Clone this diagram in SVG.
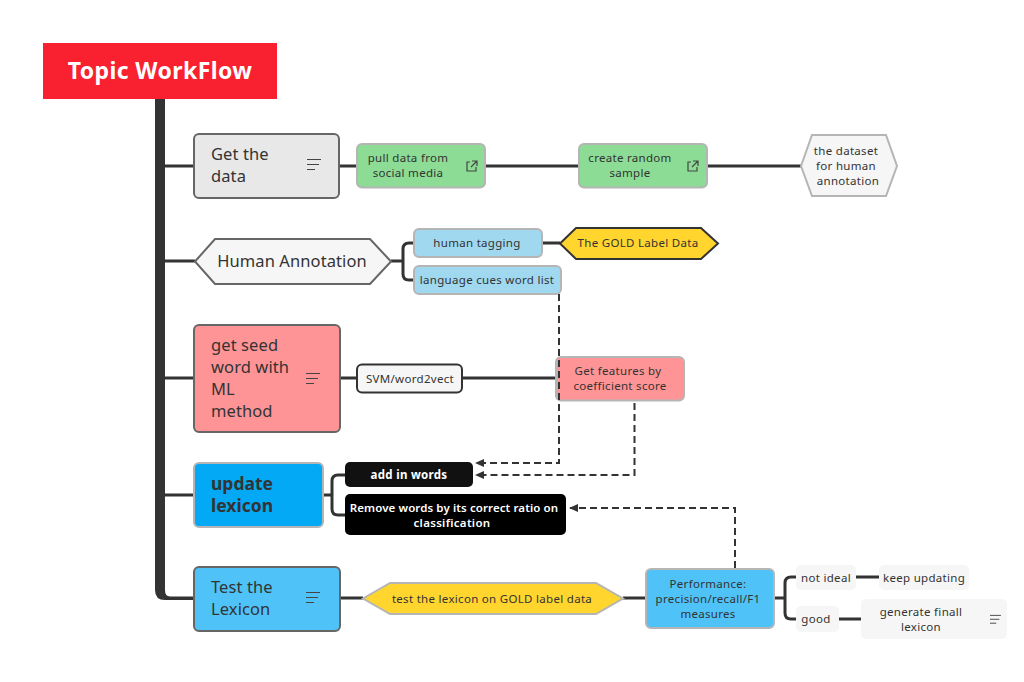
<svg xmlns="http://www.w3.org/2000/svg" width="1024" height="682" viewBox="0 0 1024 682">
<style>
text{font-family:"Noto Sans","Liberation Sans",sans-serif;fill:#333;text-anchor:middle}
.l{text-anchor:start}
.t1{font-size:16.5px;letter-spacing:.1px}
.t2{font-size:11.5px;letter-spacing:.3px}
.c{fill:none;stroke:#333;stroke-width:3}
.d{fill:none;stroke:#333;stroke-width:2;stroke-dasharray:7 4}
.i{fill:none;stroke:#444;stroke-width:1.2}
.dk{stroke:#666;stroke-width:2}
.lt{stroke:#b5b5b5;stroke-width:2}
</style>
<defs>
<marker id="a" markerWidth="10" markerHeight="8" refX="8" refY="4" orient="auto" markerUnits="userSpaceOnUse"><path d="M0 0L9 4L0 8Z" fill="#333"/></marker>
<g id="note"><path class="i" d="M0 .5H14M0 5.500H12M0 10.500H8"/></g>
<g id="link"><path class="i" d="M4 2H1V11H10V7M6 1H11V6M11 1L5 7"/></g>
</defs>
<rect width="1024" height="682" fill="#fff"/>
<g id="connectors">
<path d="M155 99V590Q155 600 165 600H194V596.500H170Q165 596.500 165 590V99Z" fill="#333"/>
<path class="c" d="M165 166H194M165 261H195M165 378H194M165 495H194"/>
<path class="c" d="M340 166H357M485 166H579M707 166H801"/>
<path class="c" d="M391 261H403M414 243H409Q403 243 403 249V274Q403 280 409 280H414M542 243H560"/>
<path class="c" d="M340 378H357M462 378H556"/>
<path class="c" d="M323 495H332M345 475H338Q332 475 332 481V509Q332 515 338 515H345"/>
<path class="c" d="M340 598H363M623 598H646"/>
<path class="c" d="M774 598H785M796 577H791Q785 577 785 583V613Q785 619 791 619H796M856 577H879M839 619H861"/>
</g>
<g id="topic"><rect x="43" y="43" width="234" height="56" fill="#f9202f"/><text x="160" y="79" font-size="23" font-weight="700" letter-spacing=".4" style="fill:#fff">Topic WorkFlow</text></g>
<g id="get-data"><rect class="dk" x="194" y="134" width="145" height="64" rx="5" fill="#e8e8e8"/><text class="l t1" x="211" y="160">Get the</text><text class="l t1" x="211" y="182">data</text><use href="#note" x="307" y="159"/></g>
<g id="pull"><rect class="lt" x="357" y="144" width="128" height="43.500" rx="5" fill="#8cdc95"/><text class="t2" x="408" y="162">pull data from</text><text class="t2" x="408" y="177">social media</text><use href="#link" x="466" y="160"/></g>
<g id="random"><rect class="lt" x="579" y="144" width="128" height="43.500" rx="5" fill="#8cdc95"/><text class="t2" x="630" y="162">create random</text><text class="t2" x="630" y="177">sample</text><use href="#link" x="687" y="160"/></g>
<g id="dataset"><path class="lt" d="M801 166L812 135H886L897 166L886 196H812Z" fill="#f6f6f6"/><text class="t2" x="846" y="155">the dataset</text><text class="t2" x="846" y="170">for human</text><text class="t2" x="848" y="185">annotation</text></g>
<g id="human"><path class="dk" d="M195 261.500L215 239H370L391 261.500L370 284H215Z" fill="#f6f6f6"/><text class="t1" x="292" y="267">Human Annotation</text></g>
<g id="tagging"><rect class="lt" x="414" y="229" width="128" height="28" rx="5" fill="#a0d8ef"/><text class="t2" x="477" y="247">human tagging</text></g>
<g id="cues"><rect class="lt" x="414" y="266" width="147" height="28" rx="5" fill="#a0d8ef"/><text class="t2" x="487" y="284">language cues word list</text></g>
<g id="gold"><path d="M560 243.500L576 228H701L718 243.500L701 259H576Z" fill="#ffd52e" stroke="#333" stroke-width="2"/><text class="t2" x="638" y="247">The GOLD Label Data</text></g>
<g id="seed"><rect class="dk" x="194" y="325" width="146" height="107" rx="5" fill="#ff9496"/><text class="l t1" x="211" y="351">get seed</text><text class="l t1" x="211" y="373">word with</text><text class="l t1" x="211" y="395">ML</text><text class="l t1" x="211" y="417">method</text><use href="#note" x="306" y="373"/></g>
<g id="svm"><rect x="357" y="364.500" width="105" height="28" rx="5" fill="#f6f6f6" stroke="#333" stroke-width="2"/><text class="t2" x="410" y="383">SVM/word2vect</text></g>
<g id="features"><rect class="lt" x="556" y="357" width="128" height="43.500" rx="5" fill="#ff9496"/><text class="t2" x="618" y="375">Get features by</text><text class="t2" x="620" y="390">coefficient score</text></g>
<g id="update"><rect x="194" y="463" width="129" height="64" rx="5" fill="#03a9f4" stroke="#b5b5b5" stroke-width="2"/><text class="l" x="211" y="490" font-size="17.500" font-weight="700">update</text><text class="l" x="211" y="512" font-size="17.500" font-weight="700">lexicon</text></g>
<g id="add"><rect x="345" y="462" width="128" height="25" rx="5" fill="#111"/><text class="t2" x="409" y="479" font-weight="700" style="fill:#fff">add in words</text></g>
<g id="remove"><rect x="345" y="494" width="221" height="41" rx="5" fill="#000"/><text class="t2" x="454" y="512" font-weight="600" style="fill:#fff;letter-spacing:.1px">Remove words by its correct ratio on</text><text class="t2" x="452" y="527" font-weight="600" style="fill:#fff">classification</text></g>
<g id="test"><rect class="dk" x="194" y="567" width="146" height="64" rx="5" fill="#4fc3f7"/><text class="l t1" x="211" y="593">Test the</text><text class="l t1" x="211" y="615">Lexicon</text><use href="#note" x="306" y="592"/></g>
<g id="test-gold"><path class="lt" d="M363 598.500L390 583H596L623 598.500L596 614H390Z" fill="#ffd52e"/><text class="t2" x="492" y="603">test the lexicon on GOLD label data</text></g>
<g id="performance"><rect class="lt" x="646" y="569" width="128" height="59" rx="5" fill="#4fc3f7"/><text class="t2" x="708" y="588">Performance:</text><text class="t2" x="708" y="603">precision/recall/F1</text><text class="t2" x="708" y="618">measures</text></g>
<g id="not-ideal"><rect x="796" y="565" width="60" height="25" rx="5" fill="#f6f6f6"/><text class="t2" x="826" y="582">not ideal</text></g>
<g id="keep"><rect x="879" y="565" width="90" height="25" rx="5" fill="#f6f6f6"/><text class="t2" x="924" y="582">keep updating</text></g>
<g id="good"><rect x="796" y="606" width="43" height="26" rx="5" fill="#f6f6f6"/><text class="t2" x="816" y="623">good</text></g>
<g id="final"><rect x="861" y="599" width="146" height="40" rx="5" fill="#f6f6f6"/><text class="t2" x="921" y="616">generate finall</text><text class="t2" x="921" y="631">lexicon</text><use href="#note" transform="translate(990 615) scale(.78)"/></g>
<g id="connectors-dashed">
<path class="d" marker-end="url(#a)" d="M559 294V463H476"/>
<path class="d" marker-end="url(#a)" d="M634.500 403V475H476"/>
<path class="d" marker-end="url(#a)" d="M735 568V508H570"/>
</g>
</svg>
